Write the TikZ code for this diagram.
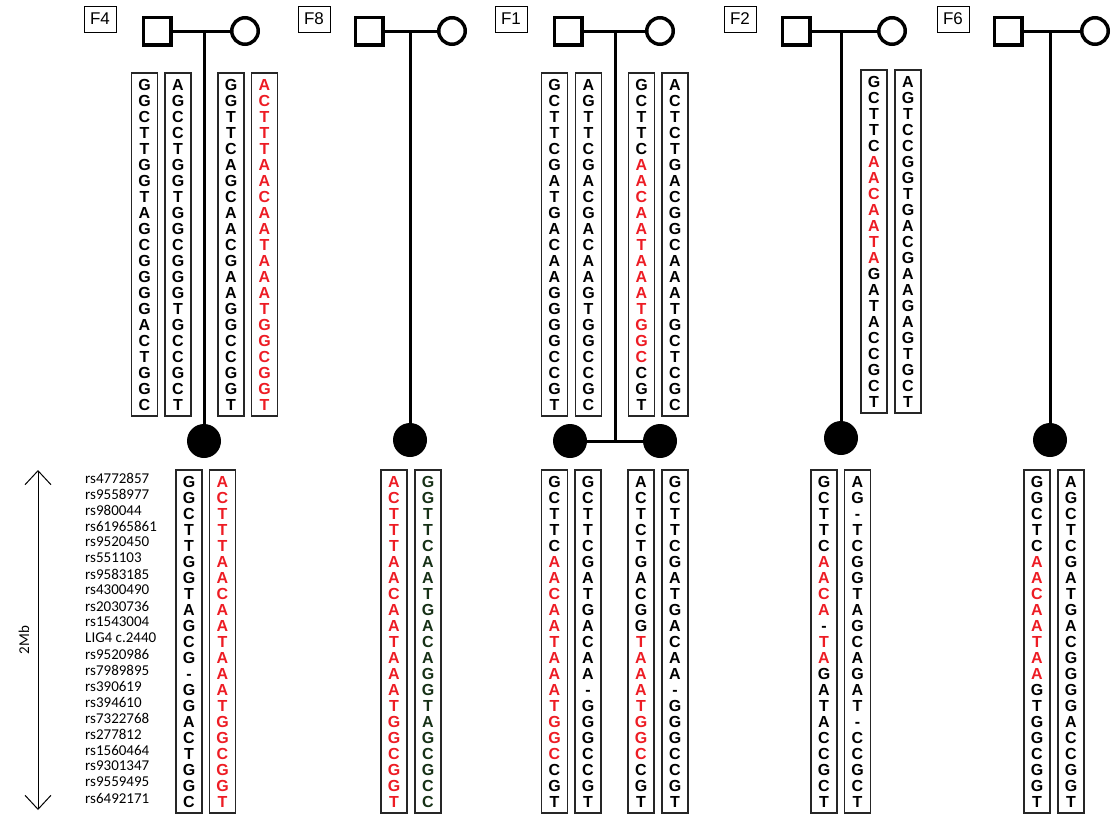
\documentclass[tikz,border=0pt]{standalone}
\usepackage{fontspec}
\setmainfont{Liberation Sans}
\newfontfamily\snpfont{Carlito}
\usetikzlibrary{calc,arrows.meta}

\definecolor{hapred}{RGB}{237,28,36}
\definecolor{hapgreen}{RGB}{22,48,22}

% bases: capitals black, small letters printed red
\newcommand{\setbase}[2]{\expandafter\def\csname hb#1\endcsname{#2}}
\setbase{A}{A}\setbase{C}{C}\setbase{G}{G}\setbase{T}{T}\setbase{-}{-}
\setbase{a}{\textcolor{hapred}{A}}\setbase{c}{\textcolor{hapred}{C}}
\setbase{g}{\textcolor{hapred}{G}}\setbase{t}{\textcolor{hapred}{T}}

% haplotype column: [style] name, x, top y, bases
\newcommand{\hapcol}[5][]{%
  \node[hapbox,#1] (#2) at (#3,#4+171.5) {};
  \foreach \nuc [count=\i from 0] in {#5}
    \node[base,#1] (#2-\i) at (#3,#4+12+16*\i) {\csname hb\nuc\endcsname};
}

\begin{document}
\begin{tikzpicture}[x=1pt,y=-1pt,
  hapbox/.style={draw=black!85,line width=1.3pt,minimum width=26pt,minimum height=343pt,inner sep=0pt},
  base/.style={font=\bfseries\fontsize{16}{16}\selectfont,text height=11.5pt,text depth=0pt,inner sep=0pt},
  famlabel/.style={draw,line width=0.9pt,minimum width=32pt,minimum height=26pt,inner sep=0pt,font=\fontsize{17}{17}\selectfont},
  male/.style={draw,line width=3.5pt,minimum size=27.5pt,inner sep=0pt},
  female/.style={draw,circle,line width=3.5pt,minimum size=26.5pt,inner sep=0pt},
  child/.style={circle,fill,minimum size=34pt,inner sep=0pt},
  pedline/.style={line width=3pt},
  snp/.style={anchor=west,font=\snpfont\fontsize{15}{15}\selectfont,inner sep=0pt}]
  \useasboundingbox (0,0) rectangle (1112,814);
  % parents of each family
  \foreach \f/\lx/\dx/\mx/\cx in {F4/100/157/245/204,F8/314/369/452/410,F1/511/568/660/615,F2/740/796/892/841,F6/953/1008/1095/1050} {
    \node[famlabel] (\f lab) at (\lx,19) {\f};
    \node[male] (\f dad) at (\dx,31) {};
    \node[female] (\f mum) at (\mx,31) {};
    \coordinate (\f mid) at (\cx,31);
    \draw[pedline] (\f dad) -- (\f mum);
  }
  % affected children
  \node[child] (F4kid) at (204,441) {};
  \draw[pedline] (F4mid) -- (F4kid);
  \node[child] (F8kid) at (410,440) {};
  \draw[pedline] (F8mid) -- (F8kid);
  \node[child] (F1kid1) at (570,441) {};
  \node[child] (F1kid2) at (660,441) {};
  \coordinate (F1sib) at (615,441);
  \draw[pedline] (F1kid1) -- (F1kid2);
  \draw[pedline] (F1mid) -- (F1sib);
  \node[child] (F2kid) at (841,438) {};
  \draw[pedline] (F2mid) -- (F2kid);
  \node[child] (F6kid) at (1050,440) {};
  \draw[pedline] (F6mid) -- (F6kid);
  % parental haplotypes
  \hapcol{F4t1}{144.5}{73}{G,G,C,T,T,G,G,T,A,G,C,G,G,G,G,A,C,T,G,G,C}
  \hapcol{F4t2}{178}{73}{A,G,C,C,T,G,G,T,G,G,C,G,G,G,T,G,C,C,G,C,T}
  \hapcol{F4t3}{231}{73}{G,G,T,T,C,A,G,C,A,A,C,G,A,A,G,G,C,C,G,G,T}
  \hapcol{F4t4}{264.5}{73}{a,c,t,t,t,a,a,c,a,a,t,a,a,a,t,g,g,c,g,g,t}
  \hapcol{F1t1}{554.5}{73}{G,C,T,T,C,G,A,T,G,A,C,A,A,G,G,G,G,C,C,G,T}
  \hapcol{F1t2}{588.5}{73}{A,G,T,T,C,G,A,C,G,A,C,A,A,G,T,G,G,C,C,G,C}
  \hapcol{F1t3}{641.5}{73}{G,C,T,T,C,a,a,c,a,a,t,a,a,a,t,g,g,c,C,G,T}
  \hapcol{F1t4}{675}{73}{A,C,T,C,T,G,A,C,G,G,C,A,A,A,T,G,C,T,C,G,C}
  \hapcol{F2t1}{874}{70}{G,C,T,T,C,a,a,c,a,a,t,a,G,A,T,A,C,C,G,C,T}
  \hapcol{F2t2}{908}{70}{A,G,T,C,C,G,G,T,G,A,C,G,A,A,G,A,G,T,G,C,T}
  % children's haplotypes
  \hapcol{F4b1}{189}{470}{G,G,C,T,T,G,G,T,A,G,C,G,-,G,G,A,C,T,G,G,C}
  \hapcol{F4b2}{222.5}{470}{a,c,t,t,t,a,a,c,a,a,t,a,a,a,t,g,g,c,g,g,t}
  \hapcol{F8b1}{394}{470}{a,c,t,t,t,a,a,c,a,a,t,a,a,a,t,g,g,c,g,g,t}
  \hapcol[text=hapgreen]{F8b2}{428}{470}{G,G,T,T,C,A,A,T,G,A,C,A,G,G,T,A,G,C,G,C,C}
  \hapcol{F1b1}{554.5}{470}{G,C,T,T,C,a,a,c,a,a,t,a,a,a,t,g,g,c,C,G,T}
  \hapcol{F1b2}{588}{470}{G,C,T,T,C,G,A,T,G,A,C,A,A,-,G,G,G,C,C,G,T}
  \hapcol{F1b3}{641}{470}{A,C,T,C,T,G,A,C,G,G,t,a,a,a,t,g,g,c,C,G,T}
  \hapcol{F1b4}{675}{470}{G,C,T,T,C,G,A,T,G,A,C,A,A,-,G,G,G,C,C,G,T}
  \hapcol{F2b1}{824}{470}{G,C,T,T,C,a,a,c,a,-,t,a,G,A,T,A,C,C,G,C,T}
  \hapcol{F2b2}{857.5}{470}{A,G,-,T,C,G,G,T,A,G,C,A,G,A,T,-,C,C,G,C,T}
  \hapcol{F6b1}{1037}{470}{G,G,C,T,C,a,a,c,a,a,t,a,a,G,T,G,G,C,G,G,T}
  \hapcol{F6b2}{1071}{470}{A,G,C,T,C,G,A,T,G,A,C,G,G,G,G,A,C,C,G,G,T}
  % markers and region size
  \foreach \s [count=\i from 0] in {rs4772857,rs9558977,rs980044,rs61965861,rs9520450,rs551103,rs9583185,rs4300490,rs2030736,rs1543004,LIG4 c.2440,rs9520986,rs7989895,rs390619,rs394610,rs7322768,rs277812,rs1560464,rs9301347,rs9559495,rs6492171}
    \node[snp] (snp\i) at (85,478+16*\i) {\s};
  \coordinate (mbtop) at (38,470);
  \coordinate (mbbot) at (38,810);
  \draw[{Straight Barb[length=14pt,width=26pt]}-{Straight Barb[length=14pt,width=26pt]},line width=1pt] (mbtop) -- (mbbot);
  \node[rotate=90,font=\snpfont\fontsize{15}{15}\selectfont] (mb) at (24,640) {2Mb};
\end{tikzpicture}
\end{document}
